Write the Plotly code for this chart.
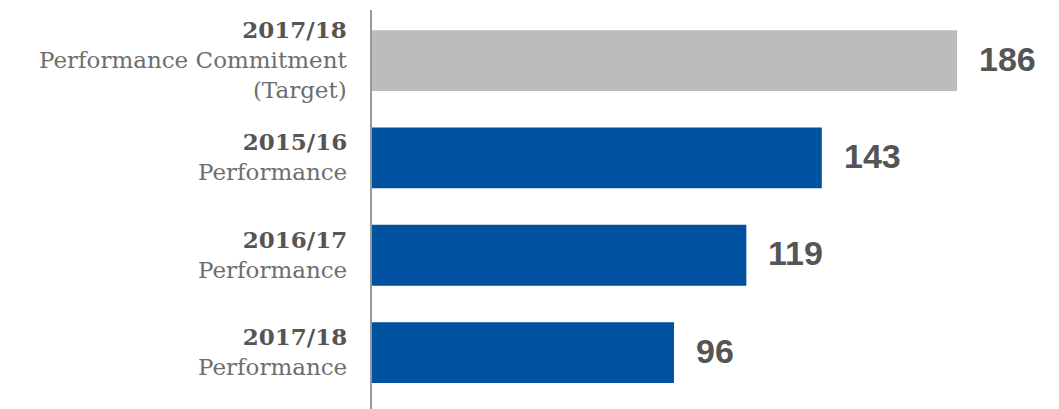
import plotly.graph_objects as go

years = ["2017/18", "2015/16", "2016/17", "2017/18"]
descriptions = ["Performance Commitment<br>(Target)", "Performance", "Performance", "Performance"]
keys = ["Target 2017/18", "Perf 2015/16", "Perf 2016/17", "Perf 2017/18"]
values = [186, 143, 119, 96]
colors = ["#BDBCBA", "#00519F", "#00519F", "#00519F"]

fig = go.Figure()
fig.add_trace(go.Bar(
    x=values, y=keys, orientation="h",
    marker=dict(color=colors, line=dict(width=0)),
    width=0.625, hoverinfo="skip",
))

for k, v in zip(keys, values):
    fig.add_annotation(
        x=v, y=k, xref="x", yref="y", text=f"<b>{v}</b>",
        showarrow=False, xanchor="left", yanchor="middle", xshift=20, yshift=2,
        font=dict(family="Liberation Sans", size=34, color="#555555"),
    )

for k, yr, d in zip(keys, years, descriptions):
    fig.add_annotation(
        x=0, y=k, xref="paper", yref="y",
        text=f"<span style='font-family:DejaVu Serif;color:#555555'><b>{yr}</b></span><br>{d}",
        showarrow=False, xanchor="right", yanchor="middle", align="right", xshift=-23, yshift=1,
        font=dict(family="DejaVu Serif", size=23, color="#6E6E6E"),
    )

fig.update_layout(
    width=1059, height=409,
    margin=dict(l=372, r=0, t=10, b=0),
    paper_bgcolor="white", plot_bgcolor="white",
    showlegend=False,
    xaxis=dict(range=[0, 218.4], visible=False, fixedrange=True),
    yaxis=dict(range=[3.58, -0.52], showticklabels=False, showgrid=False, zeroline=False,
               showline=True, linecolor="#999999", linewidth=2, ticks=""),
)

fig.write_html("out.html")
